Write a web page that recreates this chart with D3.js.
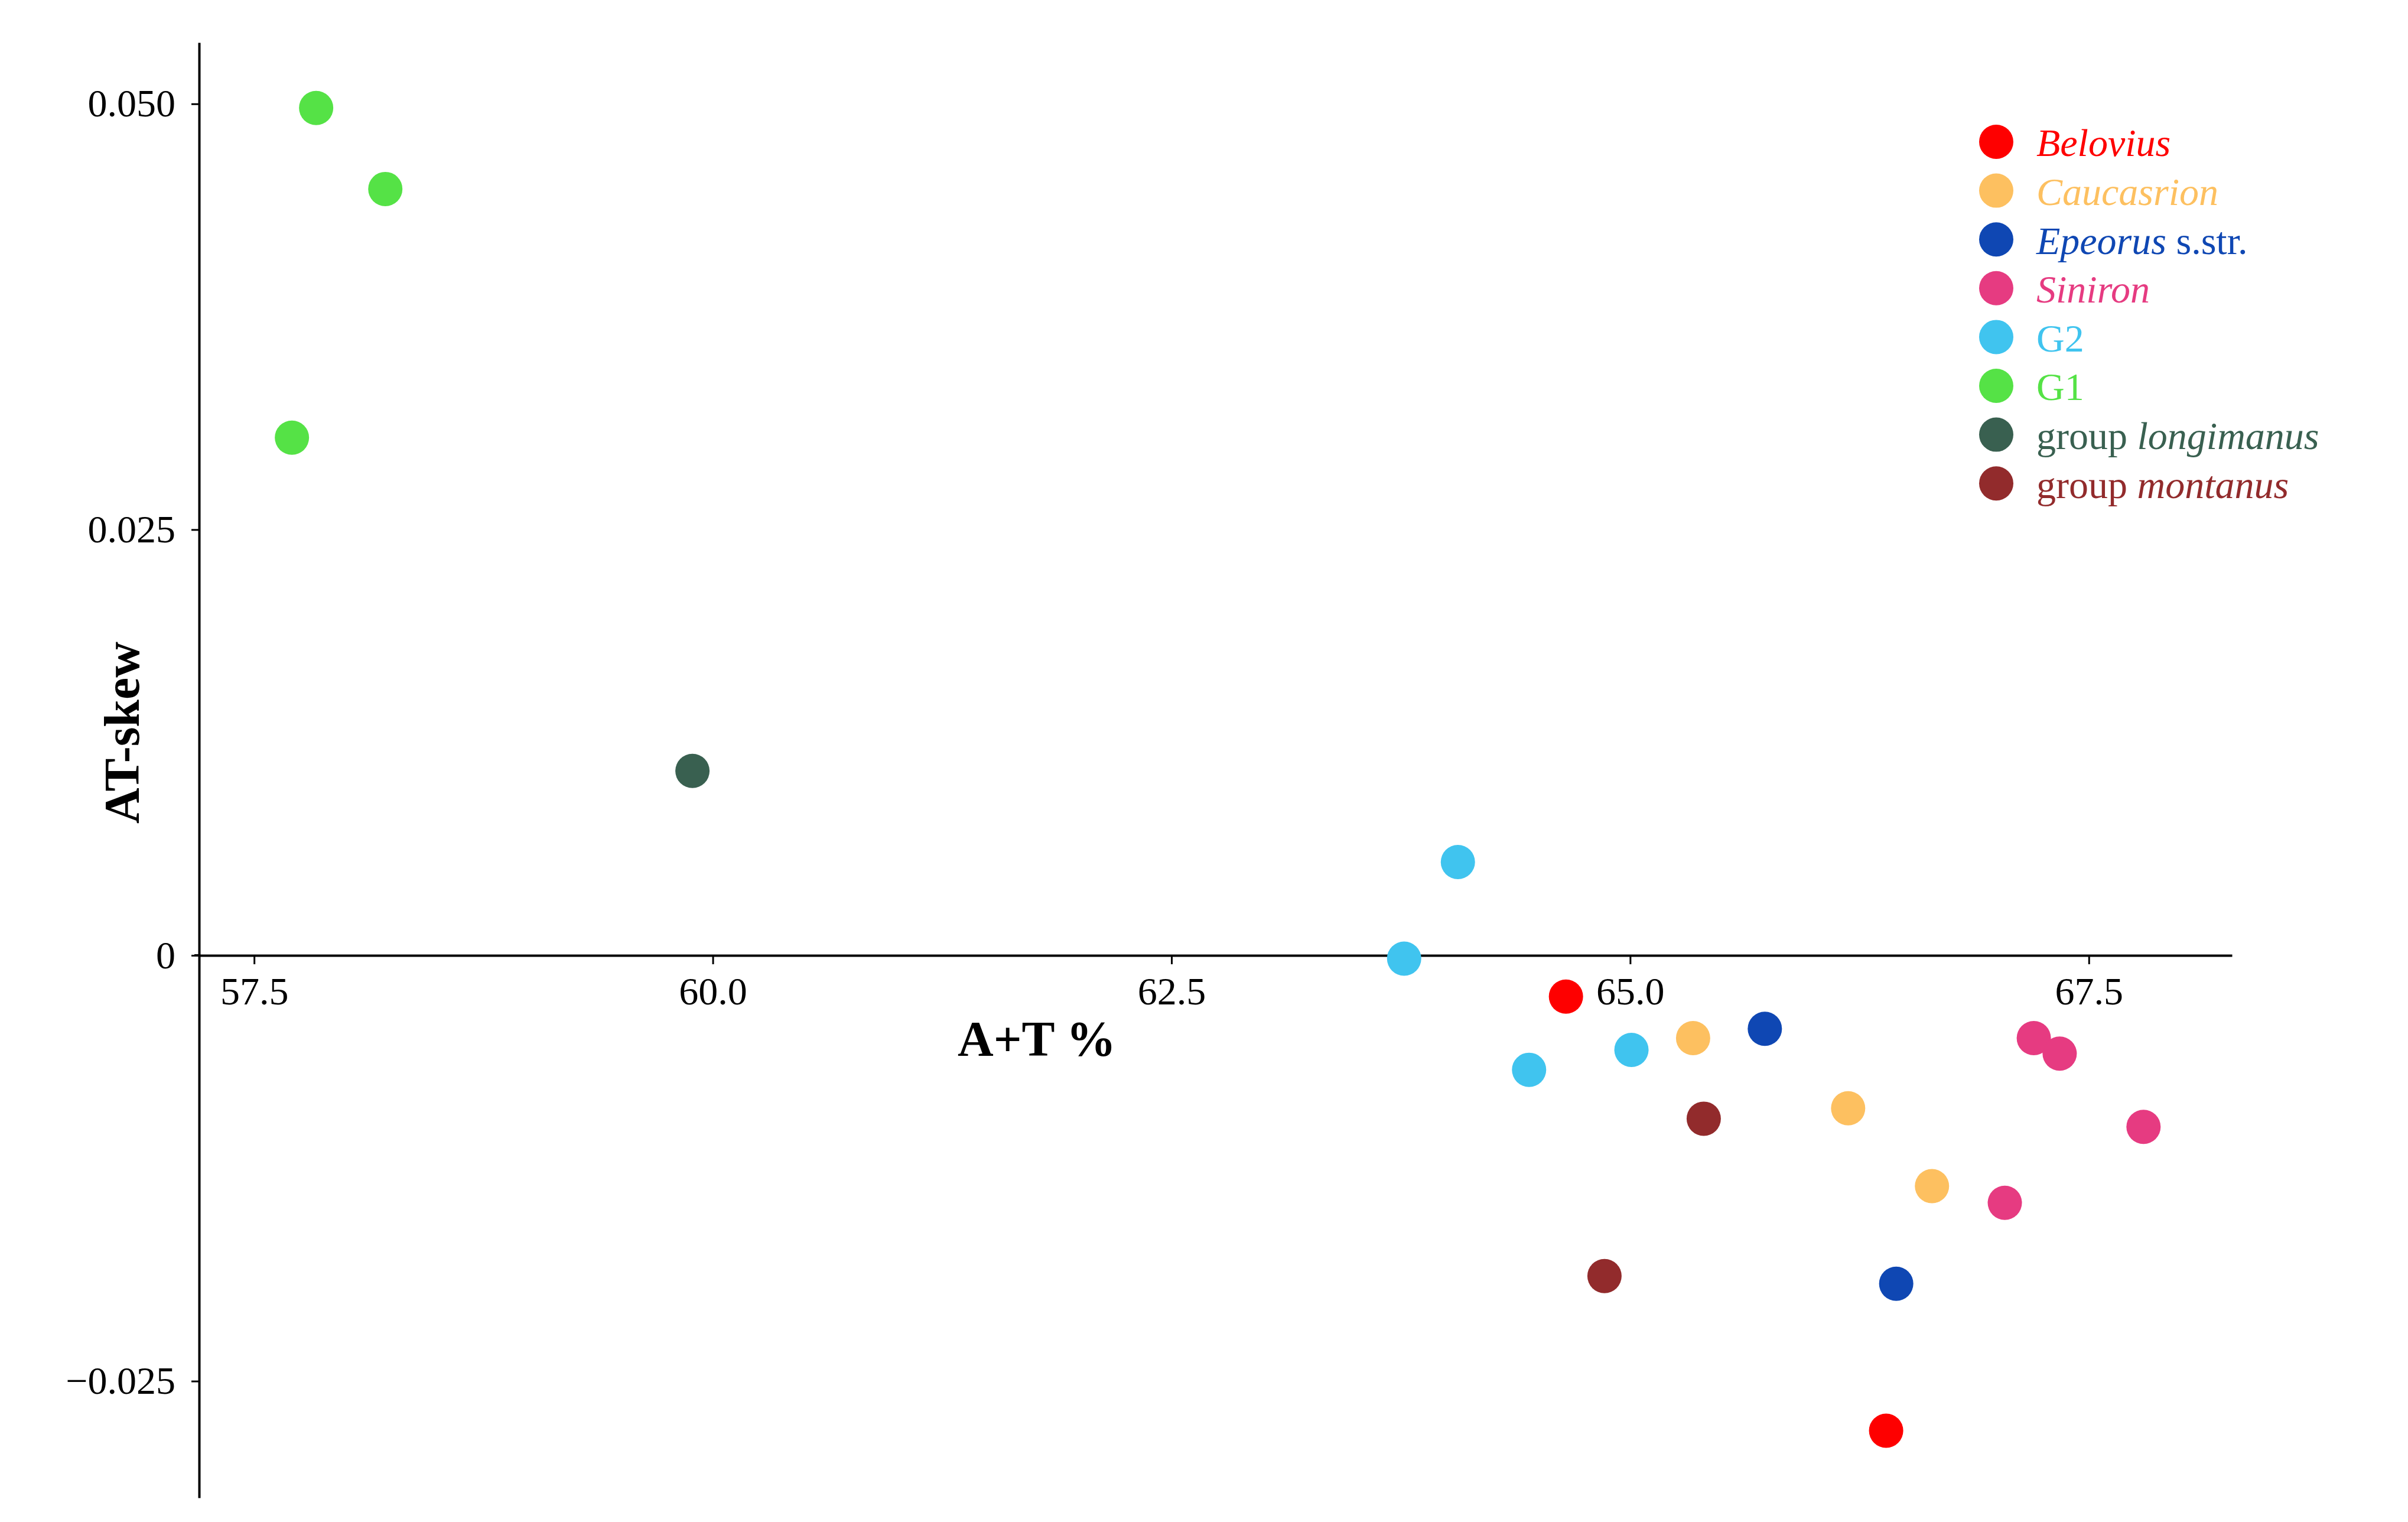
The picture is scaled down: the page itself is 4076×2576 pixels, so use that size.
<!DOCTYPE html>
<html>
<head>
<meta charset="utf-8">
<script src="https://cdn.jsdelivr.net/npm/d3@7"></script>
<style>
html,body{margin:0;padding:0;background:#fff;}
svg{display:block;}
text{font-family:"Liberation Serif","Times New Roman",serif;}
</style>
</head>
<body>
<svg id="chart" width="4076" height="2576"></svg>
<script>
// ---- data ----
const groups = ["Belovius","Caucasrion","Epeorus","Siniron","G2","G1","longimanus","montanus"];
const groupColors = ["#fe0000","#fdc060","#0f47b3","#e63b81","#40c4ef","#55e246","#396050","#922b2c"];
// legend label parts: [text, italic?]
const legendLabels = [
  [["Belovius",true]],
  [["Caucasrion",true]],
  [["Epeorus",true],[" s.str.",false]],
  [["Siniron",true]],
  [["G2",false]],
  [["G1",false]],
  [["group ",false],["longimanus",true]],
  [["group ",false],["montanus",true]]
];
const ptGroup = ["G1","G1","G1","longimanus","G2","G2","G2","G2","Belovius","Belovius",
                 "Caucasrion","Caucasrion","Caucasrion","Epeorus","Epeorus",
                 "Siniron","Siniron","Siniron","Siniron","montanus","montanus"];
const ptAT = [57.838,58.215,57.706,59.889,64.061,63.768,64.449,65.007,64.650,66.395,
              65.343,66.188,66.645,65.734,66.450,
              67.200,67.341,67.798,67.042,65.401,64.860];
const ptSkew = [0.04976,0.0450,0.0304,0.01083,0.00548,-0.00019,-0.00672,-0.00555,-0.00242,-0.02791,
                -0.00486,-0.00898,-0.01355,-0.00431,-0.01928,
                -0.00486,-0.00577,-0.01007,-0.01453,-0.00959,-0.01883];
const xTicks = [57.5,60.0,62.5,65.0,67.5];
const yTicks = [-0.025,0,0.025,0.050];
const xDomain = [57.2,68.28];
const yDomain = [-0.03185,0.0536];

// ---- layout ----
const svg = d3.select("#chart");
const x = d3.scaleLinear().domain(xDomain).range([337,3778]);
const y = d3.scaleLinear().domain(yDomain).range([2535,72]);
const color = d3.scaleOrdinal().domain(groups).range(groupColors);
const R = 29;

// axes
const fmtY = d3.format(".3f");
const xAxis = d3.axisBottom(x).tickValues(xTicks).tickFormat(d3.format(".1f"))
  .tickSize(15).tickSizeOuter(0).tickPadding(21);
const yAxis = d3.axisLeft(y).tickValues(yTicks).tickFormat(d => d === 0 ? "0" : fmtY(d))
  .tickSize(13).tickSizeOuter(0).tickPadding(27);

const gx = svg.append("g").attr("transform", `translate(0,${y(0)})`).call(xAxis);
const gy = svg.append("g").attr("transform", `translate(${x(xDomain[0])},0)`).call(yAxis);
[gx,gy].forEach(g => {
  g.select(".domain").attr("stroke","#000").attr("stroke-width",4);
  g.selectAll(".tick line").attr("stroke","#000").attr("stroke-width",3);
  g.selectAll(".tick text").attr("fill","#000")
    .style("font-family",'"Liberation Serif","Times New Roman",serif').style("font-size","66px");
});
// extend x axis line slightly left past y axis
svg.append("line").attr("x1", x(xDomain[0]) - 8).attr("x2", x(xDomain[0]))
  .attr("y1", y(0)).attr("y2", y(0)).attr("stroke","#000").attr("stroke-width",4);

// axis titles
svg.append("text").attr("x",1755).attr("y",1787).attr("text-anchor","middle")
  .style("font-size","84px").style("font-weight","bold").text("A+T %");
svg.append("text").attr("transform","translate(235,1240) rotate(-90)").attr("text-anchor","middle")
  .style("font-size","84px").style("font-weight","bold").text("AT-skew");

// points
const pts = ptAT.map((v,i) => ({at:v, skew:ptSkew[i], g:ptGroup[i]}));
svg.append("g").selectAll("circle").data(pts).join("circle")
  .attr("cx", d => x(d.at)).attr("cy", d => y(d.skew)).attr("r", R)
  .attr("fill", d => color(d.g));

// legend
const lg = svg.append("g").attr("transform","translate(3379,240)");
const rows = lg.selectAll("g").data(groups).join("g")
  .attr("transform",(d,i)=>`translate(0,${i*82.6})`);
rows.append("circle").attr("r",R).attr("fill", d => color(d));
rows.append("text").attr("x",68).attr("dy","0.37em")
  .style("font-size","66px").attr("fill", d => color(d))
  .each(function(d,i){
    const t = d3.select(this);
    legendLabels[i].forEach(([s,it]) => {
      t.append("tspan").style("font-style", it ? "italic" : "normal").text(s);
    });
  });
</script>
</body>
</html>
